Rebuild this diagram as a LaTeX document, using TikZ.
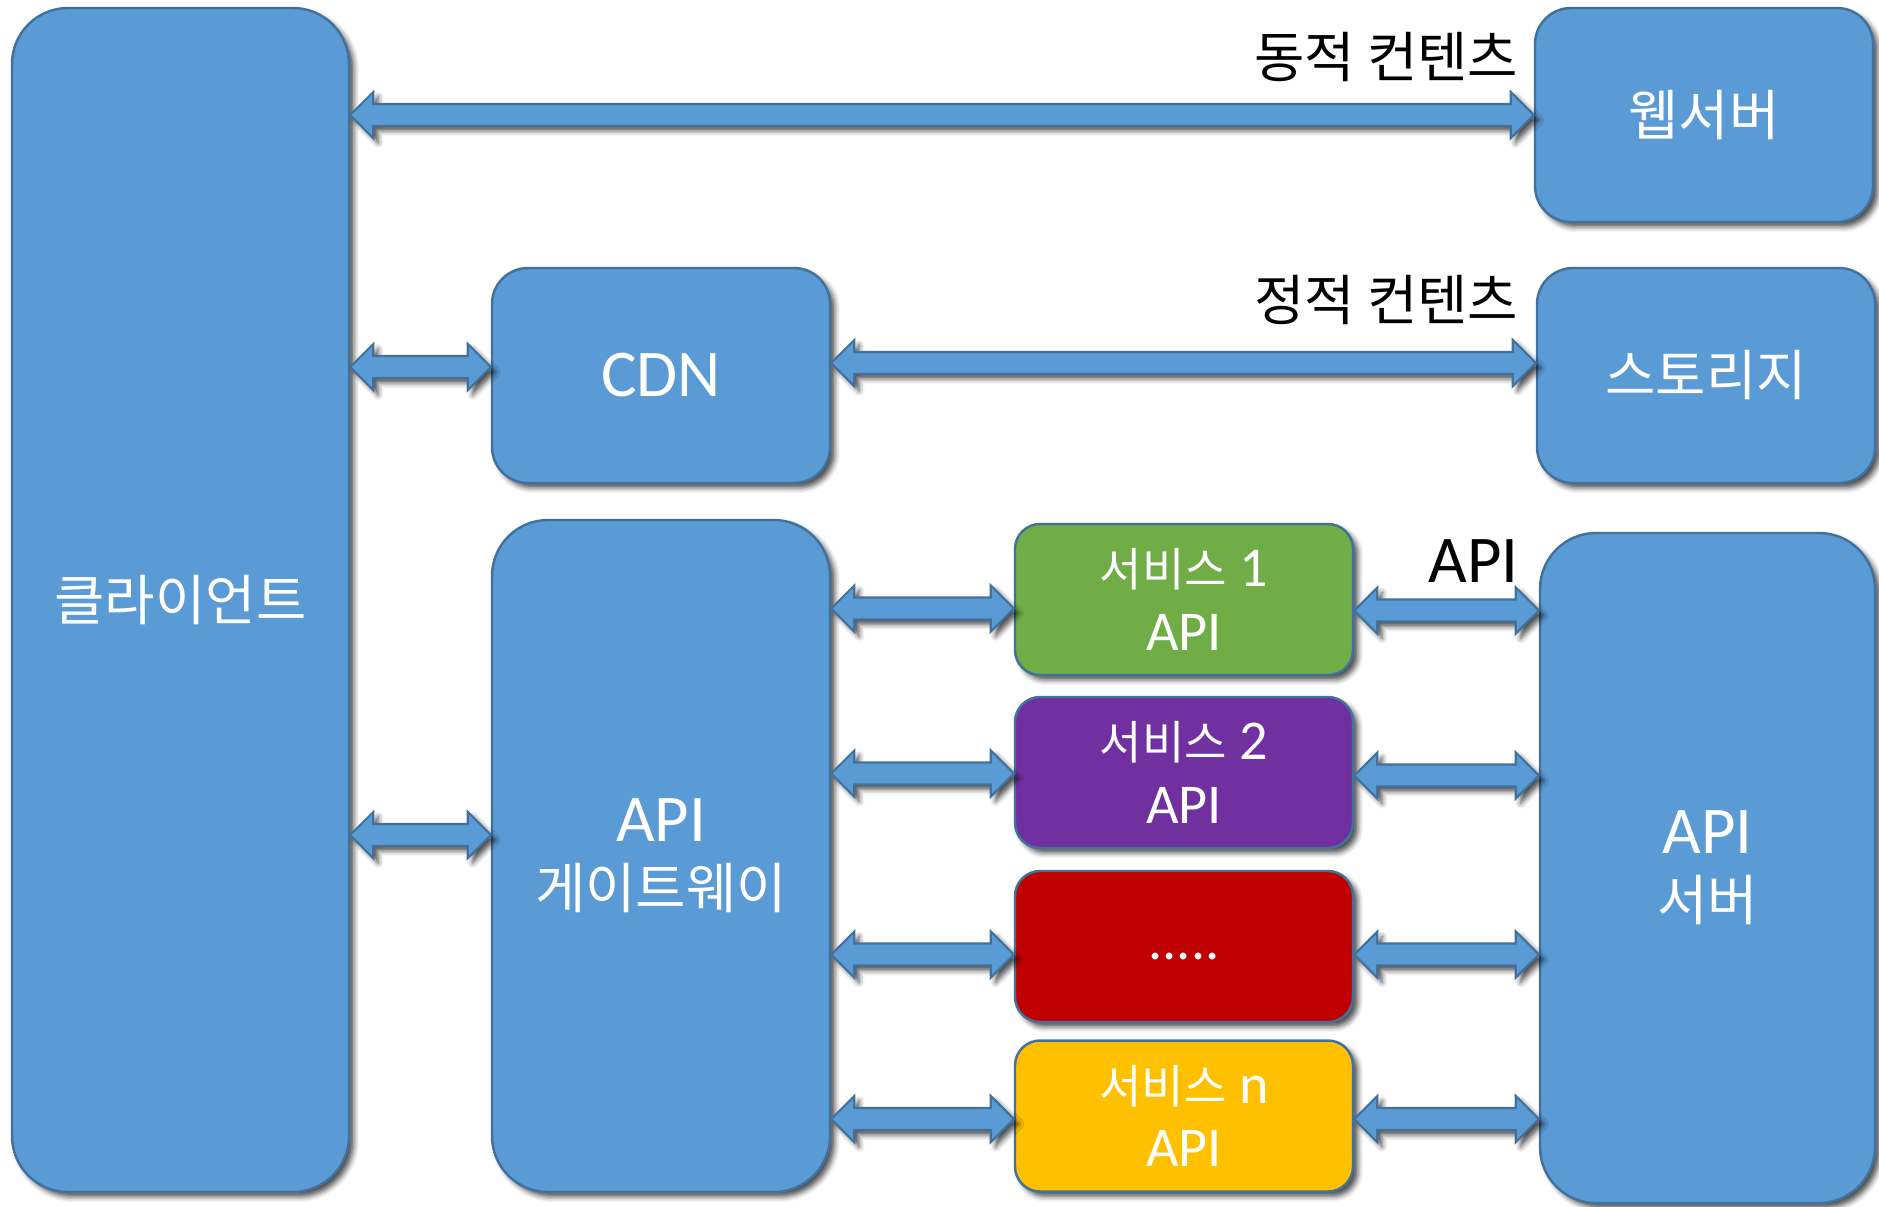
\documentclass[tikz,border=0pt]{standalone}
\usepackage{fontspec}
\setmainfont{Carlito}
\newfontfamily\kr[Scale=0.82]{Noto Sans CJK KR}
\usepackage{xcolor}
\definecolor{boxblue}{HTML}{5B9BD5}
\definecolor{edgeblue}{HTML}{41719C}
\definecolor{svcgreen}{HTML}{70AD47}
\definecolor{svcpurple}{HTML}{7030A0}
\definecolor{svcred}{HTML}{C00000}
\definecolor{svcyellow}{HTML}{FFC000}
\usetikzlibrary{calc,shadows.blur}

\newcommand{\arrhead}{0.23cm}
\newcommand{\arrwide}{0.23cm}
\newcommand{\arrshaft}{0.11cm}
% block arrow with two heads, from #1 to #2 (on the height of #1)
\newcommand{\dblarrow}[2]{%
	\filldraw[arrowbox] let \p1=#1, \p2=#2 in
		(\x1,\y1) -- (\x1+\arrhead,\y1+\arrwide) -- (\x1+\arrhead,\y1+\arrshaft)
		-- (\x2-\arrhead,\y1+\arrshaft) -- (\x2-\arrhead,\y1+\arrwide) -- (\x2,\y1)
		-- (\x2-\arrhead,\y1-\arrwide) -- (\x2-\arrhead,\y1-\arrshaft)
		-- (\x1+\arrhead,\y1-\arrshaft) -- (\x1+\arrhead,\y1-\arrwide) -- cycle;}

\begin{document}
\begin{tikzpicture}[
	shade/.style={blur shadow={shadow xshift=1.4pt, shadow yshift=-1.4pt, shadow blur radius=1.5pt, shadow opacity=70}},
	box/.style={shade, draw=edgeblue, line width=0.7pt, fill=boxblue, text=white, inner sep=0pt, align=center, minimum width=3.38cm, font=\fontsize{19}{19}\selectfont},
	svc/.style={box, minimum height=1.51cm, rounded corners=0.25cm, font=\fontsize{16}{18}\selectfont},
	arrowbox/.style={shade, draw=edgeblue, line width=0.6pt, fill=boxblue},
	lbl/.style={anchor=east, inner sep=0pt, font=\fontsize{19}{19}\selectfont}]
	\useasboundingbox (0,0) rectangle (18.79,-12.06);

	\node (client) [box, minimum width=3.37cm, minimum height=11.84cm, rounded corners=0.56cm] at (1.805,-6.00) {\kr 클라이언트};
	\node (web) [box, minimum height=2.14cm, rounded corners=0.36cm] at (17.04,-1.15) {\kr 웹서버};
	\node (cdn) [box, minimum height=2.15cm, rounded corners=0.36cm] at (6.61,-3.755) {CDN};
	\node (storage) [box, minimum height=2.15cm, rounded corners=0.36cm] at (17.06,-3.755) {\kr 스토리지};
	\node (gateway) [box, minimum height=6.72cm, rounded corners=0.56cm] at (6.61,-8.56) {API\\{\kr 게이트웨이}};
	\node (apisrv) [box, minimum width=3.35cm, minimum height=6.70cm, rounded corners=0.56cm] at (17.075,-8.68) {API\\{\kr 서버}};

	% services
	\node (svc1) [svc, fill=svcgreen] at (11.84,-5.995) {{\kr 서비스} 1\\API};
	\node (svc2) [svc, fill=svcpurple] at (11.84,-7.725) {{\kr 서비스} 2\\API};
	\node (svc3) [svc, fill=svcred] at (11.84,-9.465) {\vphantom{x}.....};
	\node (svcn) [svc, fill=svcyellow] at (11.84,-11.16) {{\kr 서비스} n\\API};

	\node (dynamic) [lbl] at (15.19,-0.57) {\kr 동적 컨텐츠};
	\node (static) [lbl] at (15.19,-3.00) {\kr 정적 컨텐츠};
	\node (apilbl) [lbl] at (15.19,-5.61) {API};

	\dblarrow{(client.east |- web.west)}{(web.west)}
	\dblarrow{([yshift=0.085cm]client.east |- cdn.west)}{(cdn.west)}
	\dblarrow{([yshift=0.125cm]cdn.east)}{(storage.west)}
	\dblarrow{([yshift=0.21cm]client.east |- gateway.west)}{(gateway.west)}
	\dblarrow{([yshift=-0.09cm]gateway.east |- svc1.west)}{(svc1.west)}
	\dblarrow{([yshift=-0.01cm]gateway.east |- svc2.west)}{(svc2.west)}
	\dblarrow{([yshift=-0.08cm]gateway.east |- svc3.west)}{(svc3.west)}
	\dblarrow{([yshift=-0.03cm]gateway.east |- svcn.west)}{(svcn.west)}
	\dblarrow{([yshift=-0.11cm]svc1.east)}{(apisrv.west)}
	\dblarrow{([yshift=-0.03cm]svc2.east)}{(apisrv.west)}
	\dblarrow{([yshift=-0.08cm]svc3.east)}{(apisrv.west)}
	\dblarrow{([yshift=-0.03cm]svcn.east)}{(apisrv.west)}
\end{tikzpicture}
\end{document}
